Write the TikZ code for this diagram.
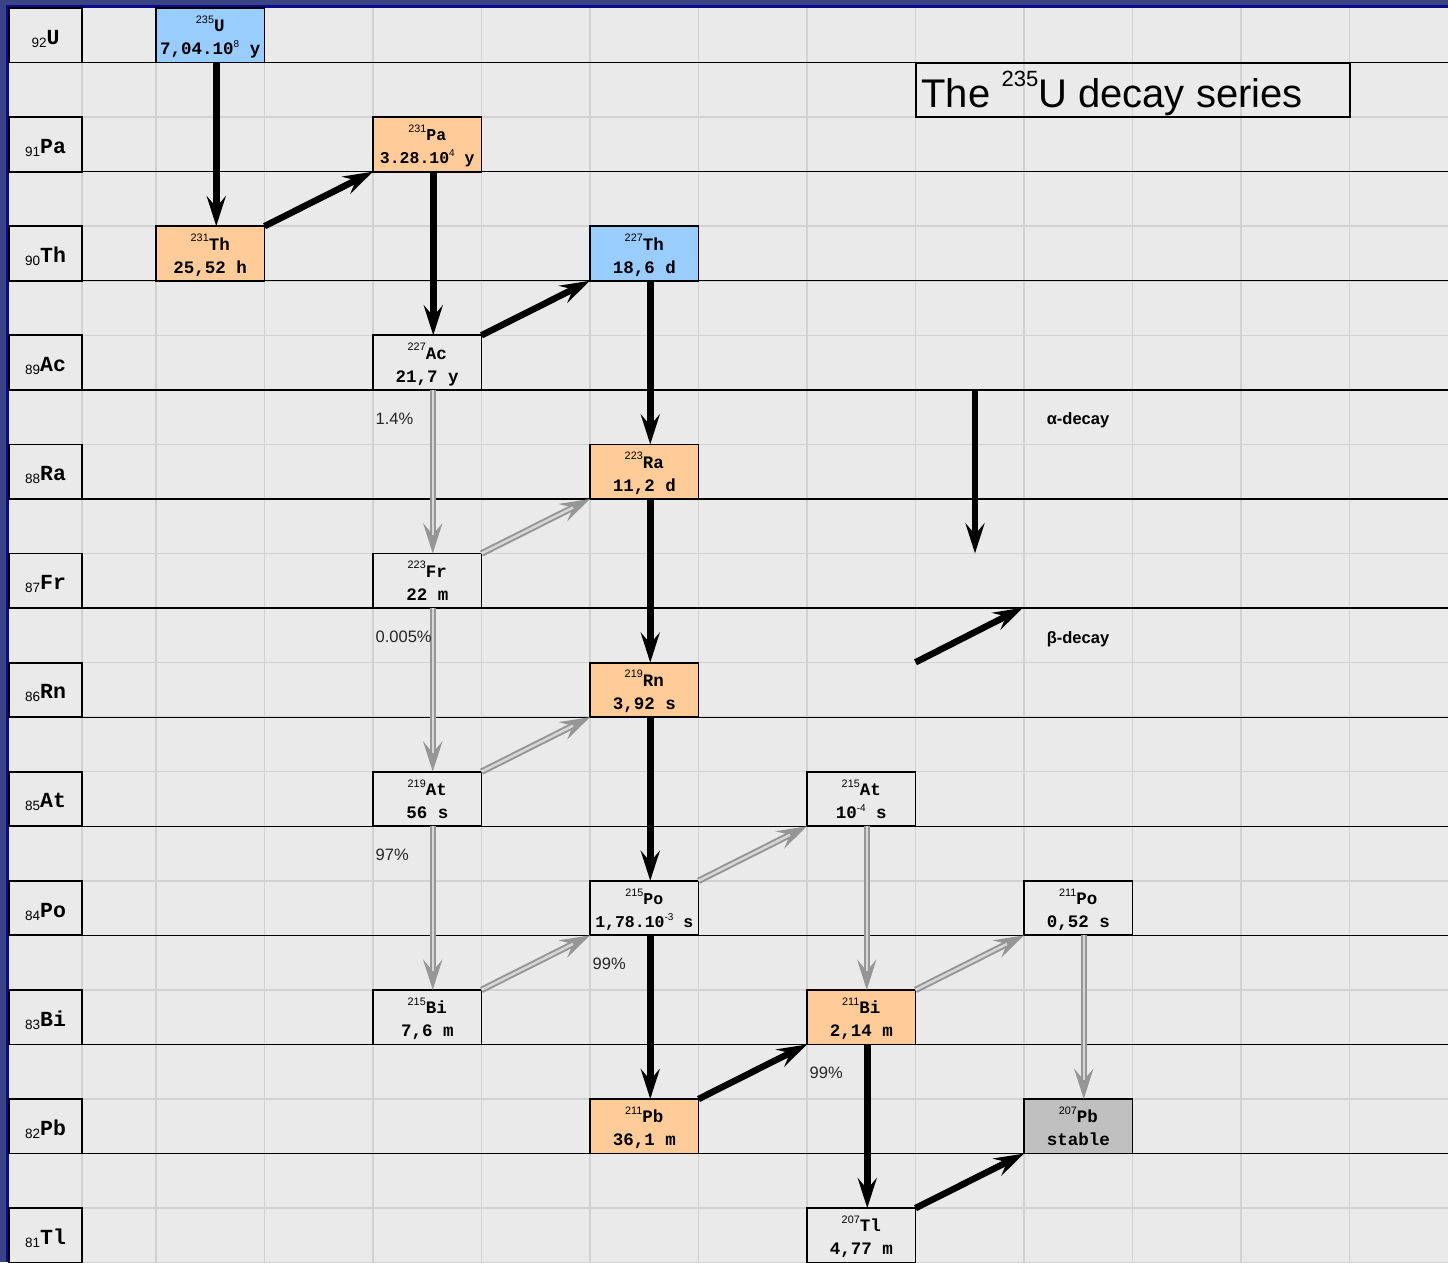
\documentclass[tikz,border=0pt]{standalone}
\usepackage{fontspec}
\setmainfont{Liberation Sans}
\setmonofont{Liberation Mono}
\usetikzlibrary{arrows.meta}
\definecolor{bgc}{RGB}{234,234,234}
\definecolor{gridc}{RGB}{210,210,210}
\definecolor{navy}{RGB}{58,67,131}
\definecolor{dblue}{RGB}{10,10,140}
\definecolor{ublue}{HTML}{99CCFF}
\definecolor{uorange}{HTML}{FFCC99}
\definecolor{ugray}{HTML}{C0C0C0}
\definecolor{gA}{RGB}{150,150,150}
\definecolor{gB}{RGB}{215,215,215}
\newcommand\massn[1]{\raisebox{8.5pt}{\rmfamily\mdseries\fontsize{10.8}{11}\selectfont #1}}
\newcommand\expn[1]{\raisebox{7.5pt}{\rmfamily\mdseries\fontsize{10}{11}\selectfont #1}}
\newcommand\zsub[1]{\raisebox{-3pt}{\rmfamily\mdseries\fontsize{13.5}{14}\selectfont #1}}
\begin{document}
\begin{tikzpicture}[x=1pt,y=-1pt,
  >={Stealth[length=30pt,width=19pt,inset=11pt]},
  nuc/.style={draw=black, line width=1.8pt, minimum width=108.5pt, minimum height=54.55pt,
    inner sep=0pt, outer sep=0pt, align=center, text depth=-3.5pt,
    font=\ttfamily\bfseries\fontsize{17.5}{23}\selectfont},
  small/.style={font=\ttfamily\bfseries\fontsize{16.5}{23}\selectfont},
  blu/.style={nuc, fill=ublue},
  org/.style={nuc, fill=uorange},
  pln/.style={nuc, fill=bgc},
  stb/.style={nuc, fill=ugray},
  zlab/.style={draw=black, line width=1.8pt, fill=bgc, minimum width=73pt, minimum height=54.55pt,
    inner sep=0pt, outer sep=0pt, text height=18pt, text depth=0pt,
    font=\ttfamily\bfseries\fontsize{21.5}{22}\selectfont},
  adec/.style={->, draw=black, line width=6.5pt},
  gdec/.style={->, draw=gA, line width=6.5pt,
    postaction={draw=gB, line width=2.5pt, -, shorten >=19pt}},
  pct/.style={anchor=base west, inner sep=0pt, font=\fontsize{16.5}{16.5}\selectfont, text=black!85},
  leg/.style={anchor=base, inner sep=0pt, font=\bfseries\fontsize{16.5}{16.5}\selectfont},
  ttl/.style={draw=black, line width=2pt, minimum width=434pt, minimum height=54.55pt,
    inner sep=0pt, outer sep=0pt, text height=40pt, text depth=5pt,
    font=\fontsize{40}{40}\selectfont}
]
\useasboundingbox (0,0) rectangle (1448,1262);
% background
\fill[navy] (0,0) rectangle (1448,1262);
\fill[dblue] (6,5) rectangle (1448,1262);
\fill[bgc] (8.5,7.5) rectangle (1448,1262);
% grid
\foreach \xx in {82,156,264.5,373,481.5,590,698.5,807,915.5,1024,1132.5,1241,1349.5}
  \draw[gridc, line width=1.5pt] (\xx,7.5) -- (\xx,1262);
\foreach \j in {1,...,23}
  \draw[gridc, line width=1.5pt] (8.5,{8+54.55*\j}) -- (1448,{8+54.55*\j});
\foreach \k in {0,...,10}
  \draw[black, line width=1.3pt] (8.5,{62.55+109.1*\k}) -- (1448,{62.55+109.1*\k});
% element labels
\foreach \z/\el [count=\k from 0] in {92/U,91/Pa,90/Th,89/Ac,88/Ra,87/Fr,86/Rn,85/At,84/Po,83/Bi,82/Pb,81/Tl}
  \node[zlab] (lab\el) at (45.5,{35.28+109.1*\k}) {\zsub{\z}\el};
% title
\node[ttl] (title) at (1132.5,89.83) {\makebox[422pt][l]{The \raisebox{21pt}{\fontsize{22}{22}\selectfont 235}U decay series}};
% nuclides
\node[blu] (u235)  at (210.25,35.28)   {\massn{235}U\\7,04.10\expn{8} y};
\node[org, small] (pa231) at (427.25,144.38)  {\massn{231}Pa\\3.28.10\expn{4} y};
\node[org] (th231) at (210.25,253.48)  {\massn{231}Th\\25,52 h};
\node[blu] (th227) at (644.25,253.48)  {\massn{227}Th\\18,6 d};
\node[pln] (ac227) at (427.25,362.58)  {\massn{227}Ac\\21,7 y};
\node[org] (ra223) at (644.25,471.68)  {\massn{223}Ra\\11,2 d};
\node[pln] (fr223) at (427.25,580.78)  {\massn{223}Fr\\22 m};
\node[org] (rn219) at (644.25,689.88)  {\massn{219}Rn\\3,92 s};
\node[pln] (at219) at (427.25,798.98)  {\massn{219}At\\56 s};
\node[pln] (at215) at (861.25,798.98)  {\massn{215}At\\10\expn{-4} s};
\node[pln, small] (po215) at (644.25,908.08)  {\massn{215}Po\\1,78.10\expn{-3} s};
\node[pln] (po211) at (1078.25,908.08) {\massn{211}Po\\0,52 s};
\node[pln] (bi215) at (427.25,1017.18) {\massn{215}Bi\\7,6 m};
\node[org] (bi211) at (861.25,1017.18) {\massn{211}Bi\\2,14 m};
\node[org] (pb211) at (644.25,1126.28) {\massn{211}Pb\\36,1 m};
\node[stb] (pb207) at (1078.25,1126.28){\massn{207}Pb\\stable};
\node[pln] (tl207) at (861.25,1235.38) {\massn{207}Tl\\4,77 m};
% alpha decays (main)
\draw[adec] ([xshift=6pt]u235.south)  -- ([xshift=6pt]th231.north);
\draw[adec] ([xshift=6pt]pa231.south) -- ([xshift=6pt]ac227.north);
\draw[adec] ([xshift=6pt]th227.south) -- ([xshift=6pt]ra223.north);
\draw[adec] ([xshift=6pt]ra223.south) -- ([xshift=6pt]rn219.north);
\draw[adec] ([xshift=6pt]rn219.south) -- ([xshift=6pt]po215.north);
\draw[adec] ([xshift=6pt]po215.south) -- ([xshift=6pt]pb211.north);
\draw[adec] ([xshift=6pt]bi211.south) -- ([xshift=6pt]tl207.north);
% beta decays (main)
\draw[adec] (th231.north east) -- (pa231.south west);
\draw[adec] (ac227.north east) -- (th227.south west);
\draw[adec] (pb211.north east) -- (bi211.south west);
\draw[adec] (tl207.north east) -- (pb207.south west);
% minor branches
\draw[gdec] ([xshift=5.5pt]ac227.south) -- ([xshift=5.5pt]fr223.north);
\draw[gdec] ([xshift=5.5pt]fr223.south) -- ([xshift=5.5pt]at219.north);
\draw[gdec] ([xshift=5.5pt]at219.south) -- ([xshift=5.5pt]bi215.north);
\draw[gdec] ([xshift=5.5pt]at215.south) -- ([xshift=5.5pt]bi211.north);
\draw[gdec] ([xshift=5.5pt]po211.south) -- ([xshift=5.5pt]pb207.north);
\draw[gdec] (fr223.north east) -- (ra223.south west);
\draw[gdec] (at219.north east) -- (rn219.south west);
\draw[gdec] (bi215.north east) -- (po215.south west);
\draw[gdec] (po215.north east) -- (at215.south west);
\draw[gdec] (bi211.north east) -- (po211.south west);
% percentages
\node[pct] (p1) at (375.5,424.3)  {1.4\%};
\node[pct] (p2) at (375.5,642.1)  {0.005\%};
\node[pct] (p3) at (375.5,860.3)  {97\%};
\node[pct] (p4) at (592.5,969.4)  {99\%};
\node[pct] (p5) at (809.5,1078.5) {99\%};
% legend
\coordinate (la1) at (975,389.85);
\coordinate (la2) at (975,553.4);
\draw[adec] (la1) -- (la2);
\coordinate (lb1) at (915.5,662.3);
\coordinate (lb2) at (1023,607.65);
\draw[adec] (lb1) -- (lb2);
\node[leg] (lalpha) at (1078,424) {α-decay};
\node[leg] (lbeta) at (1078,643) {β-decay};
\end{tikzpicture}
\end{document}
